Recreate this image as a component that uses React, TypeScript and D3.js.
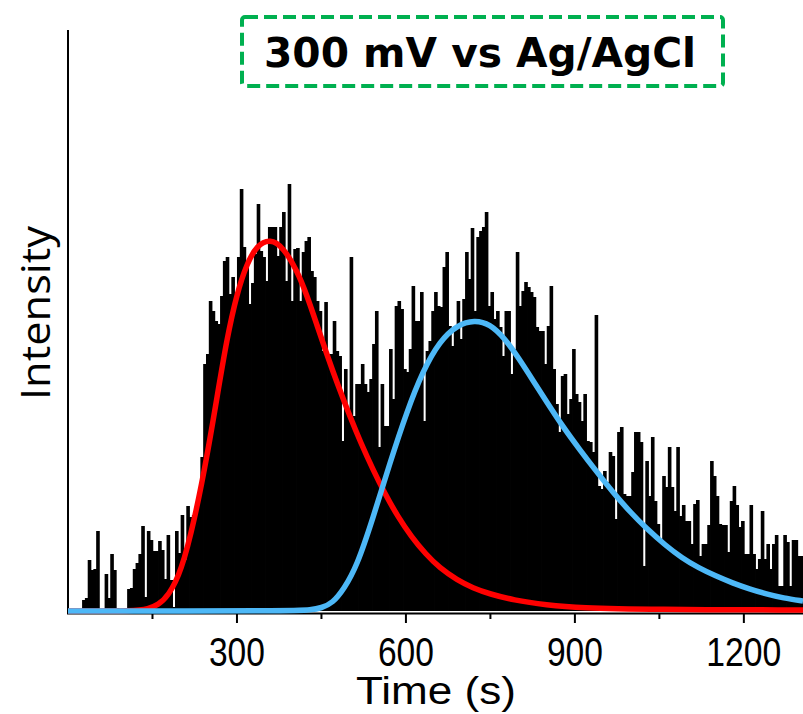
import React from "react";
import * as d3 from "d3";

// Histogram: counts per 5 s bin, starting at t = 0 s
const BIN_SECONDS = 5;
const counts: number[] = [
  0, 0, 0, 0, 0, 11, 13, 51, 41, 42,
  80, 0, 0, 37, 13, 57, 41, 3, 2, 0,
  0, 22, 23, 42, 48, 57, 85, 14, 80, 71,
  60, 60, 70, 61, 32, 76, 31, 4, 80, 58,
  96, 51, 105, 94, 96, 100, 119, 154, 247, 257,
  310, 300, 290, 287, 315, 350, 354, 317, 334, 317,
  354, 422, 364, 350, 307, 328, 357, 407, 360, 354,
  330, 384, 384, 384, 355, 384, 399, 330, 427, 310,
  362, 363, 310, 359, 370, 374, 340, 334, 310, 300,
  260, 309, 257, 257, 290, 260, 255, 170, 242, 199,
  354, 195, 227, 227, 247, 227, 219, 232, 267, 300,
  164, 227, 185, 185, 262, 212, 305, 310, 302, 242,
  239, 262, 325, 290, 290, 319, 190, 260, 270, 300,
  319, 305, 304, 344, 359, 285, 265, 285, 310, 272,
  312, 359, 332, 383, 300, 374, 380, 384, 399, 305,
  319, 292, 300, 284, 255, 300, 300, 237, 262, 359,
  305, 320, 329, 324, 319, 314, 284, 280, 280, 247,
  285, 325, 242, 207, 179, 235, 237, 197, 212, 262,
  217, 209, 190, 217, 170, 169, 159, 296, 125, 122,
  140, 129, 159, 155, 92, 179, 184, 117, 115, 115,
  139, 179, 179, 169, 45, 150, 115, 174, 110, 87,
  72, 135, 124, 164, 124, 100, 164, 95, 106, 90,
  90, 67, 107, 111, 55, 67, 67, 86, 150, 135,
  115, 87, 86, 86, 59, 110, 125, 106, 84, 90,
  57, 57, 106, 57, 42, 52, 100, 52, 67, 42,
  67, 76, 25, 25, 76, 69, 25, 71, 71, 55,
  55,
];

// Fitted curve 1 (red): time (s) and intensity
const redTimes: number[] = [0, 120, 142, 160, 178, 201, 225, 247, 265, 282, 300, 318, 336, 359, 382, 407, 424, 442, 460, 479, 501, 520, 541, 563, 585, 610, 635, 660, 691, 719, 749, 790, 850, 909, 1033, 1305];
const redValues: number[] = [0, 0, 2, 6, 15, 39, 92, 155, 215, 272, 318, 348, 366, 372, 364, 340, 316, 286, 256, 226, 194, 168, 142, 117, 95, 74, 57, 43, 31, 23, 17, 11, 6, 3, 1.5, 1];

// Fitted curve 2 (blue): time (s) and intensity
const blueTimes: number[] = [0, 405, 430, 450, 470, 490, 513, 541, 572, 602, 630, 660, 691, 722, 749, 775, 800, 825, 850, 879, 909, 939, 967, 998, 1028, 1060, 1090, 1120, 1150, 1180, 1210, 1240, 1270, 1305];
const blueValues: number[] = [0, 0, 1, 3, 8, 22, 45, 92, 149, 200, 240, 270, 286, 291, 287, 273, 253, 231, 209, 184, 161, 139, 119, 99, 82, 66, 53, 43, 35, 28, 22, 17, 13, 10];

const majorTicks: number[] = [300, 600, 900, 1200];
const minorTicks: number[] = [150, 450, 750, 1050];
const tickLabels: string[] = ["300", "600", "900", "1200"];

const titleText = "300 mV vs Ag/AgCl";
const xLabel = "Time (s)";
const yLabel = "Intensity";

export default function App() {
  const W = 803;
  const H = 714;
  const left = 68;
  const right = 803;
  const base = 611;
  const top = 30;

  const x = d3.scaleLinear().domain([0, 1305]).range([left, right]);
  const y = d3.scaleLinear().domain([0, base - top]).range([base, top]);

  const redPts = redTimes.map((t, i) => [t, redValues[i]] as [number, number]);
  const bluePts = blueTimes.map((t, i) => [t, blueValues[i]] as [number, number]);
  const line = d3
    .line<[number, number]>()
    .x((d) => x(d[0]))
    .y((d) => y(d[1]))
    .curve(d3.curveBasis);

  const barW = x(BIN_SECONDS) - x(0);
  const narrow = "'Liberation Sans Narrow', 'Arial Narrow', 'Liberation Sans', Arial, sans-serif";

  return (
    <svg
      width={W}
      height={H}
      style={{ position: "absolute", left: 0, top: 0, background: "#fff" }}
    >
      {/* bars */}
      <g>
        {counts.map((c, i) =>
          c > 0 ? (
            <rect
              key={i}
              x={x(i * BIN_SECONDS)}
              y={y(c)}
              width={barW + 0.8}
              height={y(0) - y(c)}
              fill="#000"
            />
          ) : null
        )}
      </g>

      {/* axes */}
      <line x1={left} x2={left} y1={top} y2={base + 2.5} stroke="#000" strokeWidth={2} />
      <line x1={left - 1} x2={right} y1={base + 2.5} y2={base + 2.5} stroke="#000" strokeWidth={2} />
      {majorTicks.map((t) => (
        <line key={"M" + t} x1={x(t)} x2={x(t)} y1={base + 2.5} y2={base + 12} stroke="#000" strokeWidth={2} />
      ))}
      {minorTicks.map((t) => (
        <line key={"m" + t} x1={x(t)} x2={x(t)} y1={base + 2.5} y2={base + 8} stroke="#000" strokeWidth={2} />
      ))}
      {majorTicks.map((t, i) => (
        <text
          key={"L" + t}
          x={x(t)}
          y={666}
          textAnchor="middle"
          fontFamily={narrow}
          fontSize={40}
          textLength={tickLabels[i].length === 4 ? 75 : 56}
          lengthAdjust="spacingAndGlyphs"
          fill="#000"
        >
          {tickLabels[i]}
        </text>
      ))}
      <text
        x={436}
        y={704}
        textAnchor="middle"
        fontFamily={narrow}
        fontSize={39}
        textLength={160}
        lengthAdjust="spacingAndGlyphs"
        fill="#000"
      >
        {xLabel}
      </text>
      <text
        transform="translate(50,313) rotate(-90)"
        textAnchor="middle"
        fontFamily="'Open Sans', 'Noto Sans', sans-serif"
        fontSize={41}
        textLength={174}
        lengthAdjust="spacingAndGlyphs"
        fill="#000"
      >
        {yLabel}
      </text>

      {/* fitted curves */}
      <path d={line(redPts) || ""} fill="none" stroke="#ff0000" strokeWidth={5.5} />
      <path d={line(bluePts) || ""} fill="none" stroke="#4db8f7" strokeWidth={5.5} />

      {/* title box */}
      <rect
        x={242}
        y={17}
        width={481}
        height={69}
        rx={3}
        fill="#fff"
        stroke="#00b050"
        strokeWidth={4}
        strokeDasharray="13 6"
      />
      <text
        x={480}
        y={67}
        textAnchor="middle"
        fontFamily="'DejaVu Sans', Verdana, sans-serif"
        fontWeight="bold"
        fontSize={40}
        textLength={432}
        lengthAdjust="spacingAndGlyphs"
        fill="#000"
      >
        {titleText}
      </text>
    </svg>
  );
}
